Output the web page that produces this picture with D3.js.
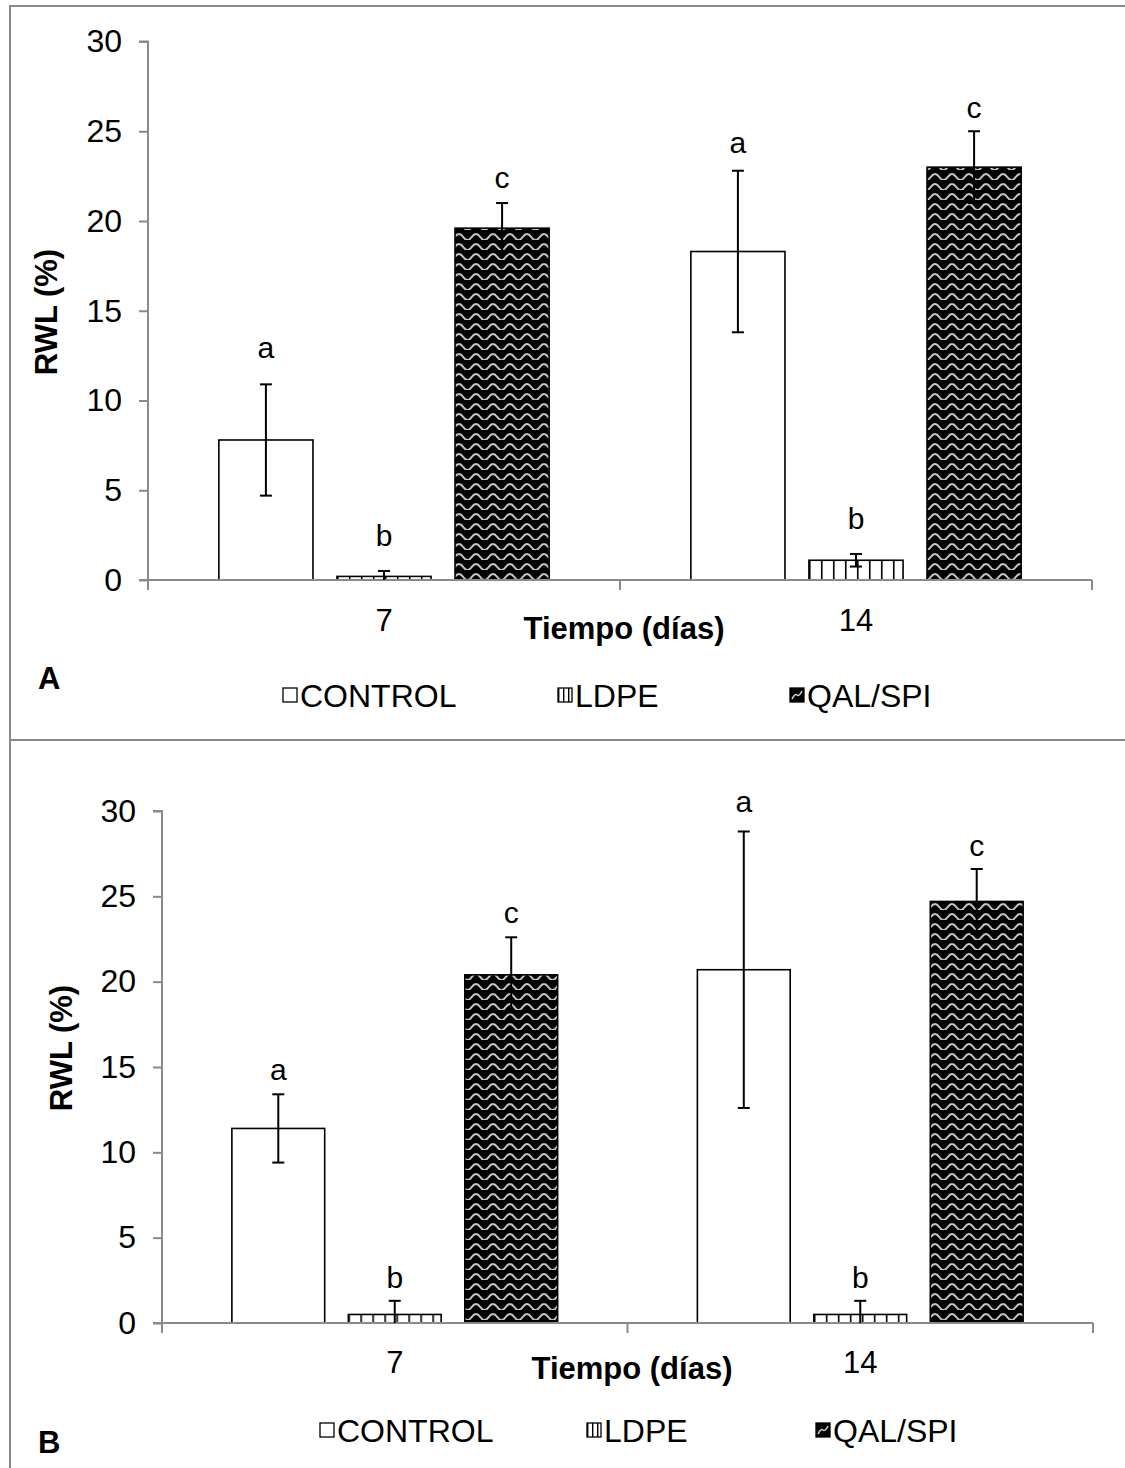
<!DOCTYPE html>
<html>
<head>
<meta charset="utf-8">
<script src="https://cdn.jsdelivr.net/npm/d3@7"></script>
<style>
  html, body { margin: 0; padding: 0; background: #fff; }
  svg { display: block; font-family: Arial, "Liberation Sans", sans-serif; }
</style>
</head>
<body>
<svg id="chart" width="1125" height="1468"></svg>
<script>
// Relative weight loss (RWL, %) by storage time and packaging
const categories = ["7", "14"];
const series = ["CONTROL", "LDPE", "QAL/SPI"];
const yTicks = [0, 5, 10, 15, 20, 25, 30];
const groupLetters = ["a", "b", "c"];
const xTitle = "Tiempo (días)";
const yTitle = "RWL (%)";

// Panel A: means and standard deviations, one entry per time
const controlA = [7.8, 18.3];
const ldpeA = [0.2, 1.1];
const qalA = [19.6, 23.0];
const controlErrA = [3.1, 4.5];
const ldpeErrA = [0.3, 0.35];
const qalErrA = [1.4, 2.0];

// Panel B: means and standard deviations, one entry per time
const controlB = [11.4, 20.7];
const ldpeB = [0.5, 0.5];
const qalB = [20.4, 24.7];
const controlErrB = [2.0, 8.1];
const ldpeErrB = [0.8, 0.8];
const qalErrB = [2.2, 1.9];

const svg = d3.select("#chart");
const defs = svg.append("defs");

// Wavy fill for QAL/SPI
const wave = defs.append("pattern")
  .attr("id", "wave").attr("patternUnits", "userSpaceOnUse")
  .attr("width", 17).attr("height", 10);
wave.append("rect").attr("width", 17).attr("height", 10).attr("fill", "#000");
wave.append("path")
  .attr("d", "M-4.25,7 Q0,1 4.25,7 T12.75,7 T21.25,7")
  .attr("fill", "none").attr("stroke", "#c4c4c4").attr("stroke-width", 2.1);

// Diagonal-swirl swatch used for the QAL/SPI legend key
const waveKey = defs.append("pattern")
  .attr("id", "waveKey").attr("patternUnits", "objectBoundingBox")
  .attr("width", 1).attr("height", 1);
waveKey.append("rect").attr("width", 14).attr("height", 14).attr("fill", "#000");
waveKey.append("path").attr("d", "M2,11 Q5,5 7,7 T12,3")
  .attr("fill", "none").attr("stroke", "#d0d0d0").attr("stroke-width", 1.6);

function stripes(id, x0) {
  const p = defs.append("pattern")
    .attr("id", id).attr("patternUnits", "userSpaceOnUse")
    .attr("x", x0).attr("width", 12).attr("height", 10);
  p.append("rect").attr("width", 12).attr("height", 10).attr("fill", "#fff");
  p.append("rect").attr("x", 0).attr("width", 1.6).attr("height", 10).attr("fill", "#000");
  return `url(#${id})`;
}

function stripesKey(id, x0) {
  const p = defs.append("pattern")
    .attr("id", id).attr("patternUnits", "userSpaceOnUse")
    .attr("x", x0).attr("width", 5).attr("height", 10);
  p.append("rect").attr("width", 5).attr("height", 10).attr("fill", "#fff");
  p.append("rect").attr("x", 0).attr("width", 1.4).attr("height", 10).attr("fill", "#000");
  return `url(#${id})`;
}

function drawPanel(cfg) {
  const { means, errs, lay } = cfg;
  const g = svg.append("g");

  const y = d3.scaleLinear().domain([0, 30]).range([lay.y0, lay.y30]);
  const x = d3.scaleBand().domain(categories).range([lay.x0, lay.x1])
    .paddingInner(0).paddingOuter(0);
  const xs = d3.scaleBand().domain(series).range([0, x.bandwidth()])
    .paddingInner(0.203).paddingOuter(0.6);

  const fills = (si, ci) => {
    if (si === 0) return "#fff";
    if (si === 2) return "url(#wave)";
    return stripes(`${lay.id}-ld-${ci}`, x(categories[ci]) + xs(series[1]));
  };

  // Bars
  series.forEach((s, si) => {
    categories.forEach((c, ci) => {
      const v = means[si][ci];
      g.append("rect")
        .attr("x", x(c) + xs(s))
        .attr("y", y(v))
        .attr("width", xs.bandwidth())
        .attr("height", y(0) - y(v))
        .attr("fill", fills(si, ci))
        .attr("stroke", "#000").attr("stroke-width", 1.6);
    });
  });

  // Axes (drawn over the bar bases)
  const axisColor = "#8a8a8a";
  const yAxis = g.append("g").attr("transform", `translate(${lay.x0},0)`)
    .call(d3.axisLeft(y).tickValues(yTicks).tickSize(9).tickPadding(17));
  yAxis.select(".domain").attr("stroke", axisColor).attr("stroke-width", 2)
    .attr("d", `M-9,${y(30)}H0V${y(0)}`);
  yAxis.selectAll(".tick line").attr("stroke", axisColor).attr("stroke-width", 2);
  yAxis.selectAll(".tick text").attr("font-size", 32).attr("fill", "#000")
    .attr("font-family", "Arial, 'Liberation Sans', sans-serif");

  const xAxis = g.append("g").attr("transform", `translate(0,${lay.y0})`);
  xAxis.append("line").attr("x1", lay.x0 - 9).attr("x2", lay.x1)
    .attr("stroke", axisColor).attr("stroke-width", 2);
  const bounds = [lay.x0, ...categories.slice(1).map(c => x(c)), lay.x1];
  xAxis.selectAll("line.tk").data(bounds).join("line").attr("class", "tk")
    .attr("x1", d => d).attr("x2", d => d).attr("y1", 0).attr("y2", 10)
    .attr("stroke", axisColor).attr("stroke-width", 2);
  xAxis.selectAll("text.cat").data(categories).join("text").attr("class", "cat")
    .attr("x", d => x(d) + x.bandwidth() / 2).attr("y", lay.catDy)
    .attr("text-anchor", "middle").attr("font-size", 31).text(d => d);

  // Error bars (clipped at the axis) and significance letters
  series.forEach((s, si) => {
    categories.forEach((c, ci) => {
      const v = means[si][ci], e = errs[si][ci];
      const lo = Math.max(0, v - e), hi = v + e;
      const cx = x(c) + xs(s) + xs.bandwidth() / 2;
      g.append("line").attr("x1", cx).attr("x2", cx)
        .attr("y1", y(lo)).attr("y2", y(hi))
        .attr("stroke", "#000").attr("stroke-width", 2);
      const caps = v - e > 0 ? [lo, hi] : [hi];
      caps.forEach(t => g.append("line")
        .attr("x1", cx - 6).attr("x2", cx + 6).attr("y1", y(t)).attr("y2", y(t))
        .attr("stroke", "#000").attr("stroke-width", 2));
      g.append("text").attr("x", cx).attr("y", y(hi) - lay.lift[si][ci])
        .attr("text-anchor", "middle").attr("font-size", 30)
        .text(groupLetters[si]);
    });
  });

  // Titles
  g.append("text").attr("x", lay.xtX).attr("y", lay.xtY)
    .attr("text-anchor", "middle").attr("font-weight", "bold").attr("font-size", 31)
    .text(xTitle);
  g.append("text")
    .attr("transform", `translate(${lay.ytX},${lay.ytY}) rotate(-90)`)
    .attr("text-anchor", "middle").attr("font-weight", "bold").attr("font-size", 31)
    .text(yTitle);
  g.append("text").attr("x", 38).attr("y", lay.tagY)
    .attr("font-weight", "bold").attr("font-size", 31).text(lay.tag);

  // Legend
  series.forEach((s, si) => {
    const lx = lay.legX[si];
    const ly = lay.legY;
    const fill = si === 0 ? "#fff" : si === 2 ? "url(#waveKey)" : stripesKey(`${lay.id}-leg`, lx);
    g.append("rect").attr("x", lx).attr("y", ly - 7).attr("width", 14).attr("height", 14)
      .attr("fill", fill).attr("stroke", "#000").attr("stroke-width", 1.3);
    g.append("text").attr("x", lx + 17).attr("y", ly + 12)
      .attr("font-size", 32).text(s);
  });
}

// Panel frames
const frame = "#8a8a8a";
svg.append("line").attr("x1", 10).attr("x2", 1125).attr("y1", 6).attr("y2", 6)
  .attr("stroke", frame).attr("stroke-width", 2);
svg.append("line").attr("x1", 10).attr("x2", 1125).attr("y1", 740).attr("y2", 740)
  .attr("stroke", frame).attr("stroke-width", 2);
svg.append("line").attr("x1", 10).attr("x2", 10).attr("y1", 5).attr("y2", 1468)
  .attr("stroke", frame).attr("stroke-width", 2);

drawPanel({
  means: [controlA, ldpeA, qalA],
  errs: [controlErrA, ldpeErrA, qalErrA],
  lay: {
    id: "pa", tag: "A", x0: 148, x1: 1092, y0: 580, y30: 41.5,
    catDy: 51, xtX: 624, xtY: 639, ytX: 57, ytY: 312, tagY: 689,
    legX: [283, 558, 790], legY: 695,
    lift: [[26, 18], [25, 25], [15, 13]]
  }
});

drawPanel({
  means: [controlB, ldpeB, qalB],
  errs: [controlErrB, ldpeErrB, qalErrB],
  lay: {
    id: "pb", tag: "B", x0: 162, x1: 1093, y0: 1323, y30: 811,
    catDy: 50, xtX: 632, xtY: 1379, ytX: 72, ytY: 1048, tagY: 1453,
    legX: [320, 587, 816], legY: 1430,
    lift: [[14, 19], [13, 13], [14, 13]]
  }
});
</script>
</body>
</html>
